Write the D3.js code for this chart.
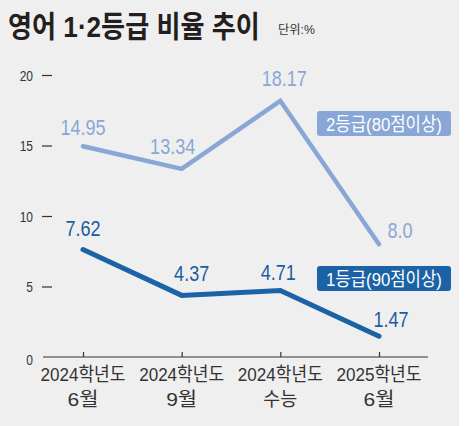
<!DOCTYPE html>
<html><head><meta charset="utf-8">
<script src="https://cdn.jsdelivr.net/npm/d3@7"></script>
<style>
html,body{margin:0;padding:0;background:#fff;}
svg{display:block;}
text{font-family:"Liberation Sans","Noto Sans CJK KR",sans-serif;}
</style></head>
<body>
<svg id="c" width="476" height="426"></svg>
<script>
const categories = ["2024학년도|6월", "2024학년도|9월", "2024학년도|수능", "2025학년도|6월"];
const grade2 = [14.95, 13.34, 18.17, 8.0];
const grade1 = [7.62, 4.37, 4.71, 1.47];
const grade2Labels = ["14.95", "13.34", "18.17", "8.0"];
const grade1Labels = ["7.62", "4.37", "4.71", "1.47"];
const yTicks = [0, 5, 10, 15, 20];
const seriesNames = ["2등급(80점이상)", "1등급(90점이상)"];
const title = "영어 1·2등급 비율 추이";
const unit = "단위:%";

// layout (label offsets relative to their points)
const off2 = [[0,-11],[-9,-15],[4,-15],[21,-6]];
const off1 = [[0,-14],[10,-14],[-2,-11],[12,-9]];
const C_LIGHT = "#88a7d7", C_DARK = "#1b63a6";
const FONT_NUM = "'Liberation Sans',sans-serif";
const FONT_KR = "'Noto Sans CJK KR',sans-serif";

const svg = d3.select("#c");
svg.append("rect").attr("x",0).attr("y",0).attr("width",459).attr("height",426).attr("fill","#efefef");

const x = d3.scalePoint().domain(categories).range([83, 379]);
const y = d3.scaleLinear().domain([0, 20]).range([357, 75]);

// place a text at (px,py) horizontally compressed to a given width (or scale)
function txt(px, py, s, opts){
  const t = svg.append("text").attr("x",0).attr("y",0).text(s)
    .attr("text-anchor", opts.anchor || "start")
    .attr("font-family", opts.family || FONT_NUM)
    .attr("font-size", opts.size).attr("fill", opts.fill)
    .attr("font-weight", opts.weight || 400);
  let sc = opts.scale || 1;
  if (opts.width) sc = opts.width / t.node().getComputedTextLength();
  t.attr("transform", `translate(${px},${py}) scale(${sc},1)`);
  return t;
}

// title
txt(8, 37, title, {family: FONT_KR, weight: 700, size: 30, fill: "#231f20", width: 252});
txt(278, 34, unit, {family: FONT_KR, size: 12, fill: "#333", width: 37});

// y axis (dashes + labels)
const yAx = svg.append("g").attr("transform","translate(52,0)")
  .call(d3.axisLeft(y).tickValues(yTicks).tickSize(10).tickPadding(9).tickFormat(""));
yAx.select(".domain").remove();
yAx.selectAll(".tick line").attr("stroke","#333").attr("stroke-width",1.2)
  .attr("opacity", d => d === 0 ? 0 : 1);
yTicks.forEach(v => {
  txt(33, y(v) + (v === 0 ? 8 : 5.5), d3.format("d")(v), {anchor: "end", size: 15, fill: "#333", scale: 0.8});
});

// x axis
svg.append("line").attr("x1",43).attr("x2",428).attr("y1",y(0)).attr("y2",y(0))
  .attr("stroke","#333").attr("stroke-width",1.2);
const xAx = svg.append("g").attr("transform",`translate(0,${y(0)})`)
  .call(d3.axisBottom(x).tickSize(-5).tickFormat(""));
xAx.select(".domain").remove();
xAx.selectAll(".tick line").attr("stroke","#333").attr("stroke-width",1.2);

categories.forEach(c => {
  const [l1, l2] = c.split("|");
  txt(x(c), 381, l1, {anchor: "middle", family: "'Liberation Sans','Noto Sans CJK KR',sans-serif", size: 19, fill: "#333", width: 85});
  txt(x(c), 406, l2, {anchor: "middle", family: "'Liberation Sans','Noto Sans CJK KR',sans-serif", size: 19, fill: "#333", width: l2 === "수능" ? 34 : 31});
});

// lines
const line = vals => d3.line().x((d,i) => x(categories[i])).y(d => y(d))(vals);
svg.append("path").attr("d", line(grade2)).attr("fill","none").attr("stroke",C_LIGHT)
  .attr("stroke-width",4.5).attr("stroke-linecap","round").attr("stroke-linejoin","miter");
svg.append("path").attr("d", line(grade1)).attr("fill","none").attr("stroke",C_DARK)
  .attr("stroke-width",5).attr("stroke-linecap","round").attr("stroke-linejoin","miter");

// value labels
function vlabels(vals, labels, offs, color){
  vals.forEach((v,i) => {
    txt(x(categories[i]) + offs[i][0], y(v) + offs[i][1], labels[i],
      {anchor: "middle", size: 22, fill: color, scale: 0.82});
  });
}
vlabels(grade2, grade2Labels, off2, C_LIGHT);
vlabels(grade1, grade1Labels, off1, "#1a5ea0");

// legend boxes
const legends = [
  {name: seriesNames[0], color: C_LIGHT, by: 111},
  {name: seriesNames[1], color: C_DARK, by: 266}
];
legends.forEach(l => {
  svg.append("rect").attr("x",317).attr("y",l.by).attr("width",134).attr("height",25)
    .attr("rx",3).attr("fill",l.color);
  txt(384, l.by + 19.5, l.name, {anchor: "middle", family: "'Liberation Sans','Noto Sans CJK KR',sans-serif", size: 19, fill: "#fff", width: 116});
});
</script>
</body></html>
